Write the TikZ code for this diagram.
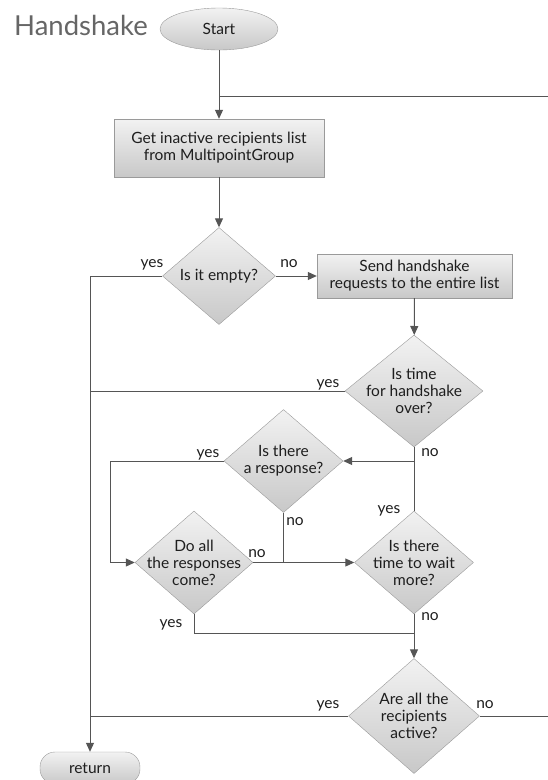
\documentclass[tikz,border=0pt]{standalone}
\usepackage{fontspec}
\setmainfont{Lato}
\usetikzlibrary{shapes.geometric,arrows.meta}
\definecolor{linec}{HTML}{555555}
\definecolor{bordc}{HTML}{9A9A9A}
\definecolor{fillt}{HTML}{F2F2F2}
\definecolor{fillb}{HTML}{C8C8C8}
\definecolor{txt}{HTML}{1E1E1E}
\definecolor{titlec}{HTML}{666666}
\begin{document}
\begin{tikzpicture}[x=1pt,y=-1pt,
  font=\fontsize{15.5}{17}\selectfont,
  every node/.style={text=txt},
  procbox/.style={draw=bordc, top color=fillt, bottom color=fillb, align=center, inner sep=0pt},
  decision/.style={diamond, draw=bordc, top color=fillt, bottom color=fillb, inner sep=0pt},
  conn/.style={draw=linec, line width=1pt},
  arr/.style={conn, -{Triangle[length=9pt,width=8pt]}},
  lbl/.style={anchor=base, inner sep=0pt}]
\useasboundingbox (0,0) rectangle (548,780);

% title
\node[anchor=base west, inner sep=0pt, text=titlec, font=\fontsize{27.5}{30}\selectfont] (title) at (14,35) {Handshake};

% nodes
\node[ellipse, draw=bordc, top color=fillt, bottom color=fillb, minimum width=118pt, minimum height=42pt, inner sep=0pt] (start) at (219,29) {Start};
\node[procbox, minimum width=210pt, minimum height=58pt] (get) at (219,148) {Get inactive recipients list\\from MultipointGroup};
\node[decision, minimum width=113pt, minimum height=97pt, label={[align=center]center:Is it empty?}] (empty) at (219,276) {};
\node[procbox, minimum width=195pt, minimum height=44pt] (send) at (414.5,276) {Send handshake\\requests to the entire list};
\node[decision, minimum width=138pt, minimum height=112pt, label={[align=center]center:{Is time\\for handshake\\over?}}] (timeover) at (414,391) {};
\node[decision, minimum width=119pt, minimum height=103pt, label={[align=center]center:{Is there\\a response?}}] (resp) at (283.5,461) {};
\node[decision, minimum width=118pt, minimum height=103pt, label={[align=center]center:{Do all\\the responses\\come?}}] (allcome) at (194,562.5) {};
\node[decision, minimum width=119pt, minimum height=103pt, label={[align=center]center:{Is there\\time to wait\\more?}}] (waitmore) at (414,562.5) {};
\node[decision, minimum width=131pt, minimum height=115pt, label={[align=center]center:{Are all the\\recipients\\active?}}] (allactive) at (414,716) {};
\node[procbox, rounded corners=15pt, minimum width=100pt, minimum height=32pt] (ret) at (90,768) {return};

% junction coordinates
\coordinate (j0) at (219,96);
\coordinate (e0) at (548,96);
\coordinate (j1) at (414,461);
\coordinate (j2) at (283.5,562.5);
\coordinate (j3) at (414,633);
\coordinate (e1) at (548,716);
\coordinate (yl) at (110,461);

% connectors
\draw[arr] (start) -- (get);
\draw[conn] (j0) -- (e0);
\draw[arr] (get) -- (empty);
\draw[arr] (empty.east) -- (send.west);
\draw[arr] (empty.west) -| (ret.north);
\draw[arr] (send) -- (timeover);
\draw[conn] (timeover.west) -- (timeover.west -| ret.north);
\draw[conn] (timeover.south) -- (j1);
\draw[conn] (waitmore.north) -- (j1);
\draw[arr] (j1) -- (resp.east);
\draw[arr] (resp.west) -- (yl) |- (allcome.west);
\draw[arr] (resp.south) |- (waitmore.west);
\draw[conn] (allcome.east) -- (j2);
\draw[conn] (allcome.south) |- (j3);
\draw[arr] (waitmore.south) -- (allactive.north);
\draw[conn] (allactive.west) -- (allactive.west -| ret.north);
\draw[conn] (allactive.east) -- (e1);

% branch labels
\node[lbl] (l1) at (152,267) {yes};
\node[lbl] (l2) at (289,267) {no};
\node[lbl] (l3) at (328,387) {yes};
\node[lbl] (l4) at (430,456) {no};
\node[lbl] (l5) at (208,457) {yes};
\node[lbl] (l6) at (295,525) {no};
\node[lbl] (l7) at (257,557) {no};
\node[lbl] (l8) at (389,513) {yes};
\node[lbl] (l9) at (171,627) {yes};
\node[lbl] (l10) at (430,620) {no};
\node[lbl] (l11) at (328,708) {yes};
\node[lbl] (l12) at (485,708) {no};
\end{tikzpicture}
\end{document}
